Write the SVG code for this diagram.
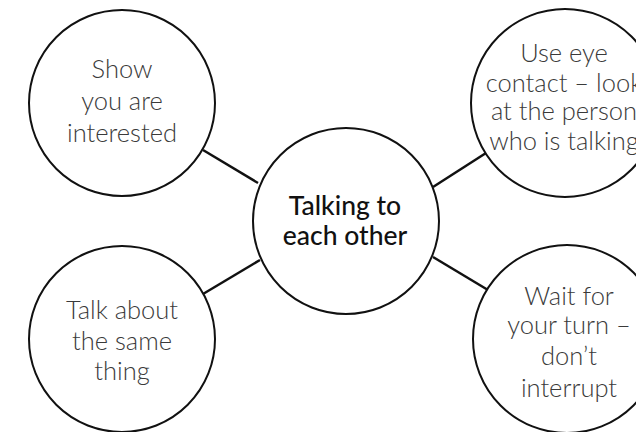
<svg xmlns="http://www.w3.org/2000/svg" width="636" height="432" viewBox="0 0 636 432">
<style>
.node{fill:#fff;stroke:#111;stroke-width:2}
.conn{stroke:#111;stroke-width:2.5;fill:none}
.t{font-family:"Lato","Open Sans",sans-serif;font-weight:300;font-size:25.5px;fill:#3a3a3a;text-anchor:middle}
.c{font-family:"Lato","Open Sans",sans-serif;font-weight:500;font-size:26.5px;fill:#111;text-anchor:middle}
</style>
<rect width="636" height="432" fill="#fff"/>
<g id="connectors">
<line class="conn" x1="203" y1="150" x2="258" y2="183"/>
<line class="conn" x1="433" y1="187" x2="486" y2="153"/>
<line class="conn" x1="203" y1="294" x2="260" y2="260"/>
<line class="conn" x1="433" y1="257" x2="488" y2="290"/>
</g>
<g id="center">
<circle class="node" cx="346" cy="221" r="93"/>
<text class="c" x="345" y="215">Talking to</text>
<text class="c" x="345" y="245">each other</text>
</g>
<g id="top-left">
<circle class="node" cx="122" cy="103" r="93"/>
<text class="t" x="122" y="78">Show</text>
<text class="t" x="122" y="110">you are</text>
<text class="t" x="122" y="142">interested</text>
</g>
<g id="top-right">
<circle class="node" cx="565" cy="103" r="94"/>
<text class="t" x="564" y="62">Use eye</text>
<text class="t" x="564" y="92">contact – look</text>
<text class="t" x="564" y="120">at the person</text>
<text class="t" x="564" y="150">who is talking</text>
</g>
<g id="bottom-left">
<circle class="node" cx="122" cy="339" r="93"/>
<text class="t" x="122" y="319">Talk about</text>
<text class="t" x="122" y="350">the same</text>
<text class="t" x="122" y="380">thing</text>
</g>
<g id="bottom-right">
<circle class="node" cx="567" cy="339" r="94"/>
<text class="t" x="569" y="305">Wait for</text>
<text class="t" x="569" y="334">your turn –</text>
<text class="t" x="569" y="365">don’t</text>
<text class="t" x="569" y="397">interrupt</text>
</g>
</svg>
